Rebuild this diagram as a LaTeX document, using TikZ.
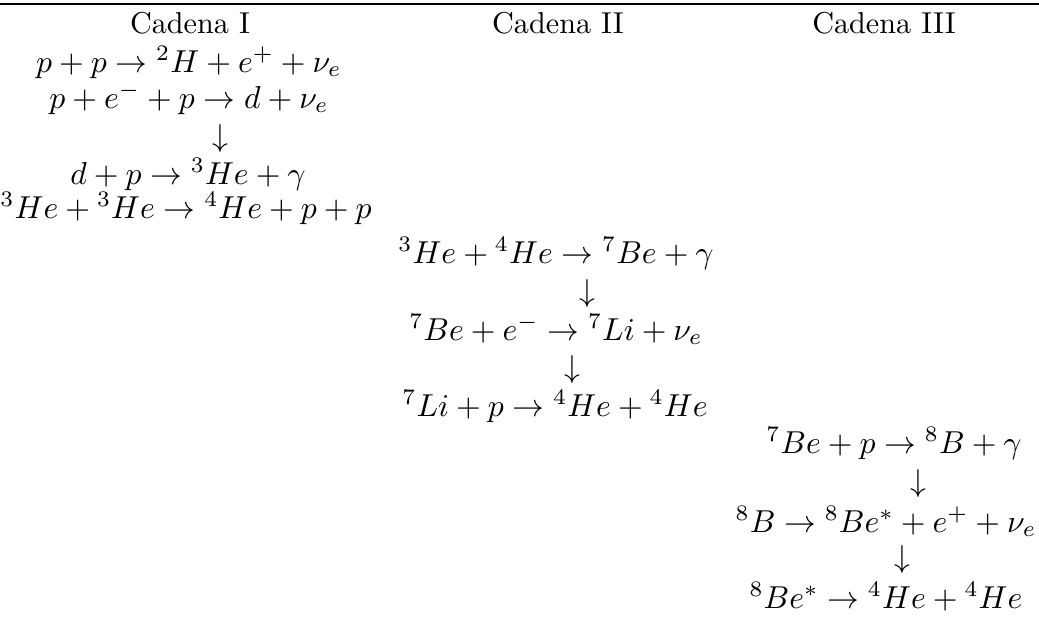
\documentclass[tikz,border=0pt]{standalone}
\usepackage{fix-cm}
\begin{document}
\begin{tikzpicture}[x=0.3311pt,y=-0.3311pt,
  title/.style={anchor=base,inner sep=0pt,font=\fontsize{10}{12}\selectfont},
  eqn/.style={anchor=base,inner sep=0pt,font=\fontsize{10.5}{13}\selectfont},
  darr/.style={anchor=center,inner sep=0pt,font=\fontsize{10.5}{13}\selectfont}]
\useasboundingbox (0,0) rectangle (1039,616);
% top rule
\coordinate (rl) at (0,4);
\coordinate (rr) at (1039,4);
\draw[line width=0.55pt] (rl) -- (rr);
% titles
\node[title] (t1) at (190,33) {Cadena I};
\node[title] (t2) at (558,33) {Cadena II};
\node[title] (t3) at (884,33) {Cadena III};
% Cadena I
\node[eqn] (a1) at (189,72) {$p+p\rightarrow{}^2H+e^++\nu_e$};
\node[eqn] (a2) at (189,108) {$p+e^-+p\rightarrow d+\nu_e$};
\node[darr] (a2d) at (220,139) {$\downarrow$};
\node[eqn] (a3) at (188,184) {$d+p\rightarrow{}^3He+\gamma$};
\node[eqn] (a4) at (186,218) {${}^3He+{}^3He\rightarrow{}^4He+p+p$};
% Cadena II
\node[eqn] (b1) at (556,263) {${}^3He+{}^4He\rightarrow{}^7Be+\gamma$};
\node[darr] (b1d) at (587,294) {$\downarrow$};
\node[eqn] (b2) at (556,340) {${}^7Be+e^-\rightarrow{}^7Li+\nu_e$};
\node[darr] (b2d) at (572,370) {$\downarrow$};
\node[eqn] (b3) at (555,416) {${}^7Li+p\rightarrow{}^4He+{}^4He$};
% Cadena III
\node[eqn] (c1) at (894,453) {${}^7Be+p\rightarrow{}^8B+\gamma$};
\node[darr] (c1d) at (918,484) {$\downarrow$};
\node[eqn] (c2) at (886,532) {${}^8B\rightarrow{}^8Be^*+e^++\nu_e$};
\node[darr] (c2d) at (902,560) {$\downarrow$};
\node[eqn] (c3) at (886,608) {${}^8Be^*\rightarrow{}^4He+{}^4He$};
\end{tikzpicture}
\end{document}
